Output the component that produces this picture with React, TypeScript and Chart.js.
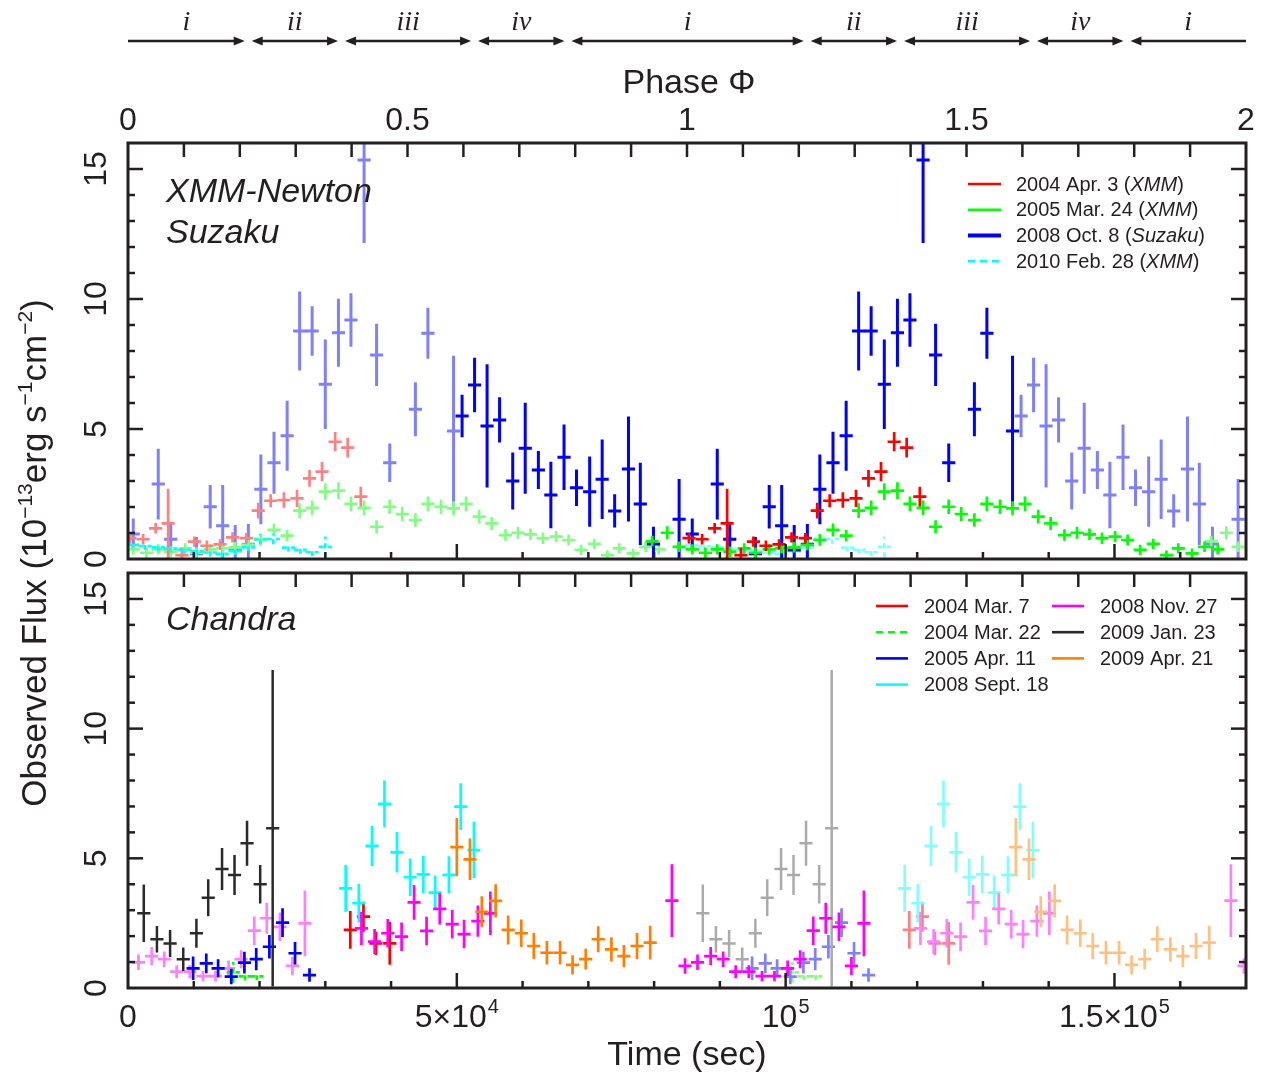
import React, { useEffect, useRef } from "react";
import { Chart, registerables } from "chart.js";

Chart.register(...registerables);

// ---------- constants ----------
const PERIOD = 85000; // s, one orbital phase
const TIME_MAX = 170000; // s (phase 2)
const FLUX_MAX = 16;
const BIN_HALF = 1000; // s, half width of time bins

// ---------- top panel: XMM-Newton / Suzaku ----------
const xmm2004AprTime = [85300, 87300, 89200, 91100, 93200, 95100, 97000, 99000, 100900, 103000, 104800, 106700, 108700, 110700, 112600, 114500, 116500, 118400, 120400];
const xmm2004AprFlux = [0.80, 0.76, 1.18, 1.37, 0.15, 0.67, 0.51, 0.56, 0.83, 0.80, 1.86, 2.24, 2.27, 2.33, 3.10, 3.36, 4.51, 4.28, 2.40];
const xmm2004AprErr = [0.2, 0.2, 0.2, 1.33, 0.27, 0.2, 0.2, 0.2, 0.2, 0.2, 0.3, 0.25, 0.3, 0.33, 0.32, 0.37, 0.37, 0.38, 0.38];

const xmm2005MarTime = [79700, 82000, 83800, 85800, 87800, 89600, 91500, 93700, 95400, 97500, 99400, 101300, 103300, 105200, 107200, 109200, 111100, 113000, 115000, 117000, 118900, 120900, 122800, 124800, 126700, 128700, 130600, 132600, 134500, 136400, 138400, 140300, 142400, 144300, 146200, 148100, 150100, 152000, 153900, 155900, 157900, 159700, 161800, 163700, 165700];
const xmm2005MarFlux = [0.69, 1.01, 0.47, 0.37, 0.24, 0.37, 0.28, 0.41, 0.24, 0.37, 0.42, 0.45, 0.54, 0.73, 1.12, 0.90, 1.86, 1.97, 2.59, 2.63, 2.12, 1.97, 1.24, 2.01, 1.73, 1.50, 2.12, 2.01, 1.95, 2.12, 1.63, 1.37, 0.92, 1.01, 0.95, 0.80, 0.86, 0.73, 0.35, 0.58, 0.15, 0.41, 0.22, 0.47, 0.37];
const xmm2005MarErr = [0.2, 0.25, 0.2, 0.2, 0.2, 0.2, 0.2, 0.2, 0.2, 0.2, 0.2, 0.2, 0.2, 0.22, 0.25, 0.22, 0.28, 0.28, 0.32, 0.32, 0.28, 0.28, 0.25, 0.28, 0.27, 0.26, 0.28, 0.28, 0.27, 0.28, 0.26, 0.25, 0.22, 0.23, 0.22, 0.22, 0.22, 0.21, 0.2, 0.2, 0.18, 0.2, 0.18, 0.2, 0.2];

const suzaku2008OctTime = [50800, 52700, 54600, 56500, 58500, 60400, 62400, 64300, 66300, 68200, 70200, 72100, 74000, 76100, 77900, 79900, 83800, 85800, 89600, 91500, 95400, 97500, 99400, 101300, 103300, 105200, 107200, 109200, 111100, 113000, 115000, 117000, 118900, 120900, 122800, 124800, 128700, 130600, 134500];
const suzaku2008OctFlux = [5.50, 6.69, 5.12, 5.35, 3.00, 4.26, 3.42, 2.46, 3.91, 2.74, 2.59, 3.07, 1.85, 3.46, 2.12, 0.58, 1.53, 0.96, 2.88, 0.76, 0.20, 2.01, 1.28, 0.35, 0.57, 2.68, 3.70, 4.74, 8.77, 8.77, 6.72, 8.70, 9.19, 15.35, 7.85, 3.70, 5.76, 8.68, 4.92];
const suzaku2008OctErr = [0.82, 1.05, 2.37, 0.87, 1.10, 1.75, 0.73, 1.28, 1.26, 0.70, 1.35, 1.53, 0.64, 2.02, 1.58, 0.66, 1.55, 0.60, 1.36, 0.60, 0.65, 0.84, 1.57, 0.96, 0.78, 1.34, 1.19, 1.35, 1.52, 0.95, 1.72, 1.31, 1.03, 3.20, 1.20, 0.74, 1.04, 0.98, 2.90];

const xmm2010FebTime = [700, 2600, 4600, 6500, 8500, 10500, 12500, 14300, 16300, 18300, 20100, 22100, 24400, 26200, 28000, 30000];
const xmm2010FebFlux = [0.54, 0.50, 0.45, 0.40, 0.35, 0.30, 0.25, 0.20, 0.30, 0.45, 0.77, 0.77, 0.44, 0.35, 0.26, 0.47];
const xmm2010FebErr = [0.15, 0.15, 0.15, 0.15, 0.15, 0.15, 0.15, 0.15, 0.15, 0.15, 0.2, 0.2, 0.15, 0.15, 0.15, 0.4];

// ---------- bottom panel: Chandra ----------
const cxo2004Mar7Time = [33800, 35800, 37700, 39800];
const cxo2004Mar7Flux = [2.24, 2.75, 1.72, 1.72];
const cxo2004Mar7Err = [0.73, 0.58, 0.45, 0.82];

const cxo2004Mar22Time = [16000, 17800, 19600];
const cxo2004Mar22Flux = [0.6, 0.45, 0.45];
const cxo2004Mar22Err = [0.4, 0.15, 0.15];

const cxo2005Apr11Time = [9900, 11900, 13700, 15700, 17700, 19500, 21500, 23500, 25400, 27600];
const cxo2005Apr11Flux = [0.76, 0.95, 0.76, 0.44, 0.98, 1.11, 1.59, 2.52, 1.34, 0.50];
const cxo2005Apr11Err = [0.45, 0.38, 0.35, 0.30, 0.42, 0.43, 0.45, 0.55, 0.43, 0.26];

const cxo2008Sep18Time = [33100, 35100, 37100, 39000, 40900, 42900, 44900, 46700, 48800, 50600, 52600];
const cxo2008Sep18Flux = [3.84, 3.27, 5.48, 7.10, 5.23, 4.27, 4.38, 3.68, 4.36, 6.99, 5.32];
const cxo2008Sep18Err = [0.90, 0.74, 0.78, 0.90, 0.78, 0.72, 0.72, 0.66, 0.72, 0.90, 1.09];

const cxo2008Nov27Time = [35500, 37500, 39500, 41600, 43500, 45400, 47400, 49300, 51100, 53200, 55100, 82700, 84700, 86600, 88600, 90500, 92400, 94400, 96400, 98300, 100300, 102200, 104200, 106100, 108100, 110000, 111900];
const cxo2008Nov27Flux = [2.30, 1.79, 2.11, 1.98, 3.30, 2.20, 3.05, 2.46, 2.08, 2.58, 2.88, 3.37, 0.85, 0.99, 1.23, 1.11, 0.63, 0.63, 0.46, 0.46, 0.76, 1.11, 2.21, 2.69, 2.36, 0.85, 2.49];
const cxo2008Nov27Err = [0.64, 0.48, 0.55, 0.55, 0.67, 0.55, 0.60, 0.55, 0.55, 0.60, 0.84, 1.40, 0.30, 0.30, 0.35, 0.30, 0.25, 0.25, 0.20, 0.20, 0.30, 0.35, 0.55, 0.60, 0.55, 0.35, 1.27];

const cxo2009Jan23Time = [2400, 4400, 6400, 8400, 10400, 12200, 14300, 16200, 18100, 20100, 22000];
const cxo2009Jan23Flux = [2.88, 1.88, 1.72, 1.11, 2.11, 3.48, 4.59, 4.36, 5.58, 4.00, 6.16];
const cxo2009Jan23Err = [1.11, 0.51, 0.52, 0.45, 0.56, 0.71, 0.81, 0.77, 0.87, 0.74, 6.1];

const cxo2009Apr21Time = [50000, 52000, 53800, 55900, 57800, 59800, 61700, 63700, 65700, 67600, 69600, 71500, 73500, 75400, 77400, 79400];
const cxo2009Apr21Flux = [5.43, 4.96, 2.94, 3.36, 2.24, 2.11, 1.62, 1.36, 1.36, 0.89, 1.11, 1.88, 1.49, 1.23, 1.62, 1.75];
const cxo2009Apr21Err = [1.12, 0.80, 0.60, 0.64, 0.56, 0.53, 0.50, 0.45, 0.45, 0.37, 0.40, 0.50, 0.47, 0.43, 0.50, 0.65];

// ---------- axis / annotation labels ----------
const fluxTickLabels = [0, 5, 10, 15];
const phaseTickLabels = [0, 0.5, 1, 1.5, 2];
const timeTickValues = [0, 50000, 100000, 150000];
const timeTickMantissa = ["0", "5×10", "10", "1.5×10"];
const timeTickExponent = ["", "4", "5", "5"];
const phaseBoundaries = [0, 0.215, 0.382, 0.62, 0.787, 1.215, 1.382, 1.62, 1.787, 2];
const phaseSegmentLabels = ["i", "ii", "iii", "iv", "i", "ii", "iii", "iv", "i"];

// ---------- series tables ----------
type Series = {
  label: string;
  time: number[];
  flux: number[];
  err: number[];
  color: string;
  light: string;
  width: number;
  dash: number[];
};

const topSeries: Series[] = [
  { label: "2008 Oct. 8 (Suzaku)", time: suzaku2008OctTime, flux: suzaku2008OctFlux, err: suzaku2008OctErr, color: "#0000ff", light: "#8080ff", width: 3, dash: [] },
  { label: "2005 Mar. 24 (XMM)", time: xmm2005MarTime, flux: xmm2005MarFlux, err: xmm2005MarErr, color: "#00ff00", light: "#80ff80", width: 2.7, dash: [] },
  { label: "2004 Apr. 3 (XMM)", time: xmm2004AprTime, flux: xmm2004AprFlux, err: xmm2004AprErr, color: "#ff0000", light: "#ff8080", width: 2.7, dash: [] },
  { label: "2010 Feb. 28 (XMM)", time: xmm2010FebTime, flux: xmm2010FebFlux, err: xmm2010FebErr, color: "#00ffff", light: "#80ffff", width: 2.7, dash: [5, 4] },
];
const topLegendOrder = [2, 1, 0, 3];

const bottomSeries: Series[] = [
  { label: "2004 Mar. 7", time: cxo2004Mar7Time, flux: cxo2004Mar7Flux, err: cxo2004Mar7Err, color: "#ff0000", light: "#ff8080", width: 2.7, dash: [] },
  { label: "2004 Mar. 22", time: cxo2004Mar22Time, flux: cxo2004Mar22Flux, err: cxo2004Mar22Err, color: "#00ff00", light: "#80ff80", width: 2.7, dash: [5, 4] },
  { label: "2005 Apr. 11", time: cxo2005Apr11Time, flux: cxo2005Apr11Flux, err: cxo2005Apr11Err, color: "#0000ff", light: "#8080ff", width: 2.7, dash: [] },
  { label: "2008 Sept. 18", time: cxo2008Sep18Time, flux: cxo2008Sep18Flux, err: cxo2008Sep18Err, color: "#00ffff", light: "#80ffff", width: 2.7, dash: [] },
  { label: "2008 Nov. 27", time: cxo2008Nov27Time, flux: cxo2008Nov27Flux, err: cxo2008Nov27Err, color: "#ff00ff", light: "#ff80ff", width: 2.7, dash: [] },
  { label: "2009 Jan. 23", time: cxo2009Jan23Time, flux: cxo2009Jan23Flux, err: cxo2009Jan23Err, color: "#2a2a2a", light: "#aaaaaa", width: 2.5, dash: [] },
  { label: "2009 Apr. 21", time: cxo2009Apr21Time, flux: cxo2009Apr21Flux, err: cxo2009Apr21Err, color: "#ff8000", light: "#ffc080", width: 2.7, dash: [] },
];

// ---------- drawing helpers ----------
const INK = "#231f20";
const FONT = '"Liberation Sans", Arial, Helvetica, sans-serif';
const SERIF = '"Liberation Serif", "Times New Roman", serif';

function foldTime(t: number) {
  return t < PERIOD ? t + PERIOD : t - PERIOD;
}

function buildDatasets(series: Series[]) {
  const folded = series.map((s) => ({
    label: s.label + " (folded)",
    data: s.time.map((t, i) => ({ x: foldTime(t), y: s.flux[i], e: s.err[i] })),
    borderColor: s.light,
    backgroundColor: s.light,
    pointRadius: 0,
    showLine: false,
    errWidth: s.width,
    errDash: s.dash,
  }));
  const direct = series.map((s) => ({
    label: s.label,
    data: s.time.map((t, i) => ({ x: t, y: s.flux[i], e: s.err[i] })),
    borderColor: s.color,
    backgroundColor: s.color,
    pointRadius: 0,
    showLine: false,
    errWidth: s.width,
    errDash: s.dash,
  }));
  return [...folded, ...direct];
}

const errorCrossPlugin = {
  id: "errorCross",
  afterDatasetsDraw(chart: any) {
    const { ctx, chartArea: a } = chart;
    const xs = chart.scales.x;
    const ys = chart.scales.y;
    ctx.save();
    ctx.beginPath();
    ctx.rect(a.left, a.top, a.right - a.left, a.bottom - a.top);
    ctx.clip();
    chart.data.datasets.forEach((ds: any) => {
      ctx.strokeStyle = ds.borderColor;
      ctx.lineWidth = ds.errWidth;
      ctx.setLineDash(ds.errDash || []);
      ctx.lineCap = "butt";
      ds.data.forEach((p: any) => {
        const px = xs.getPixelForValue(p.x);
        const py = ys.getPixelForValue(p.y);
        const x0 = xs.getPixelForValue(p.x - BIN_HALF);
        const x1 = xs.getPixelForValue(p.x + BIN_HALF);
        const y0 = ys.getPixelForValue(p.y - p.e);
        const y1 = ys.getPixelForValue(p.y + p.e);
        ctx.beginPath();
        ctx.moveTo(x0, py);
        ctx.lineTo(x1, py);
        ctx.moveTo(px, y0);
        ctx.lineTo(px, y1);
        ctx.stroke();
      });
    });
    ctx.restore();
  },
};

function seg(ctx: CanvasRenderingContext2D, x0: number, y0: number, x1: number, y1: number) {
  ctx.beginPath();
  ctx.moveTo(x0, y0);
  ctx.lineTo(x1, y1);
  ctx.stroke();
}

function drawFrame(chart: any) {
  const { ctx, chartArea: a } = chart;
  const xs = chart.scales.x;
  const ys = chart.scales.y;
  ctx.save();
  ctx.strokeStyle = INK;
  ctx.lineWidth = 2.5;
  ctx.setLineDash([]);
  for (let v = 1; v < FLUX_MAX; v++) {
    const py = ys.getPixelForValue(v);
    const len = v % 5 === 0 ? 15 : 7;
    seg(ctx, a.left, py, a.left + len, py);
    seg(ctx, a.right, py, a.right - len, py);
  }
  for (let k = 1; k < 20; k++) {
    const px = xs.getPixelForValue((k / 10) * PERIOD);
    seg(ctx, px, a.top, px, a.top + 14);
  }
  for (let t = 10000; t < TIME_MAX; t += 10000) {
    const px = xs.getPixelForValue(t);
    const len = t % 50000 === 0 ? 15 : 7;
    seg(ctx, px, a.bottom, px, a.bottom - len);
  }
  ctx.lineWidth = 3;
  ctx.strokeRect(a.left, a.top, a.right - a.left, a.bottom - a.top);
  // rotated flux tick labels
  ctx.fillStyle = INK;
  ctx.font = `32px ${FONT}`;
  ctx.textAlign = "center";
  ctx.textBaseline = "alphabetic";
  fluxTickLabels.forEach((v) => {
    const py = ys.getPixelForValue(v);
    ctx.save();
    ctx.translate(106, py);
    ctx.rotate(-Math.PI / 2);
    ctx.fillText(String(v), 0, 0);
    ctx.restore();
  });
  ctx.restore();
}

function drawMixedText(ctx: CanvasRenderingContext2D, text: string, x: number, y: number, size: number) {
  const m = text.match(/^(.*\()(.*)(\).*)$/);
  const parts: [string, boolean][] = m ? [[m[1], false], [m[2], true], [m[3], false]] : [[text, false]];
  let cx = x;
  ctx.textAlign = "left";
  parts.forEach(([s, italic]) => {
    ctx.font = `${italic ? "italic " : ""}${size}px ${FONT}`;
    ctx.fillText(s, cx, y);
    cx += ctx.measureText(s).width;
  });
}

function legendSample(ctx: CanvasRenderingContext2D, x0: number, x1: number, y: number, s: Series, width: number) {
  ctx.save();
  ctx.strokeStyle = s.color;
  ctx.lineWidth = width;
  ctx.setLineDash(s.dash.length ? [7, 5] : []);
  seg(ctx, x0, y, x1, y);
  ctx.restore();
}

function arrowHead(ctx: CanvasRenderingContext2D, x: number, y: number, dir: number) {
  ctx.beginPath();
  ctx.moveTo(x, y);
  ctx.lineTo(x - dir * 11, y - 4.5);
  ctx.lineTo(x - dir * 11, y + 4.5);
  ctx.closePath();
  ctx.fill();
}

const topDecorPlugin = {
  id: "topDecor",
  afterDraw(chart: any) {
    const { ctx, chartArea: a } = chart;
    const xs = chart.scales.x;
    drawFrame(chart);
    ctx.save();
    ctx.fillStyle = INK;
    ctx.strokeStyle = INK;
    // phase tick labels
    ctx.font = `32px ${FONT}`;
    ctx.textAlign = "center";
    ctx.textBaseline = "alphabetic";
    phaseTickLabels.forEach((p) => {
      ctx.fillText(String(p), xs.getPixelForValue(p * PERIOD), 130);
    });
    ctx.font = `34px ${FONT}`;
    ctx.fillText("Phase Φ", (a.left + a.right) / 2 + 2, 93);
    // phase segments with arrows
    ctx.lineWidth = 2.5;
    for (let i = 0; i < phaseSegmentLabels.length; i++) {
      const first = i === 0;
      const last = i === phaseSegmentLabels.length - 1;
      const x0 = xs.getPixelForValue(phaseBoundaries[i] * PERIOD) + (first ? 0 : 3.5);
      const x1 = xs.getPixelForValue(phaseBoundaries[i + 1] * PERIOD) - (last ? 0 : 3.5);
      seg(ctx, first ? x0 : x0 + 6, 41, last ? x1 : x1 - 6, 41);
      if (!first) arrowHead(ctx, x0, 41, -1);
      if (!last) arrowHead(ctx, x1, 41, 1);
      ctx.font = `italic 28px ${SERIF}`;
      ctx.textAlign = "center";
      ctx.fillText(phaseSegmentLabels[i], (x0 + x1) / 2, 30);
    }
    // panel label
    ctx.font = `italic 34px ${FONT}`;
    ctx.textAlign = "left";
    ctx.fillText("XMM-Newton", 166, 202);
    ctx.fillText("Suzaku", 166, 243);
    // legend
    ctx.textBaseline = "middle";
    topLegendOrder.forEach((si, row) => {
      const s = topSeries[si];
      const y = 184 + row * 25.7;
      legendSample(ctx, 968, 1001, y, s, s.width > 2.8 ? 4 : 2.6);
      ctx.fillStyle = INK;
      drawMixedText(ctx, s.label, 1016, y + 1, 20);
    });
    // y axis title (spans both panels)
    const parts: [string, boolean][] = [
      ["Observed Flux (10", false],
      ["−13", true],
      ["erg s", false],
      ["−1", true],
      ["cm", false],
      ["−2", true],
      [")", false],
    ];
    const big = `35px ${FONT}`;
    const small = `21px ${FONT}`;
    let total = 0;
    parts.forEach(([s, sup]) => {
      ctx.font = sup ? small : big;
      total += ctx.measureText(s).width;
    });
    ctx.save();
    ctx.translate(46, 553);
    ctx.rotate(-Math.PI / 2);
    ctx.textAlign = "left";
    ctx.textBaseline = "alphabetic";
    let cx = -total / 2;
    parts.forEach(([s, sup]) => {
      ctx.font = sup ? small : big;
      ctx.fillText(s, cx, sup ? -14 : 0);
      cx += ctx.measureText(s).width;
    });
    ctx.restore();
    ctx.restore();
  },
};

const bottomDecorPlugin = {
  id: "bottomDecor",
  afterDraw(chart: any) {
    const { ctx, chartArea: a } = chart;
    const xs = chart.scales.x;
    drawFrame(chart);
    ctx.save();
    ctx.fillStyle = INK;
    // time tick labels with exponents
    ctx.textBaseline = "alphabetic";
    ctx.textAlign = "left";
    timeTickValues.forEach((v, i) => {
      const big = `32px ${FONT}`;
      const small = `20px ${FONT}`;
      ctx.font = big;
      const w1 = ctx.measureText(timeTickMantissa[i]).width;
      ctx.font = small;
      const w2 = timeTickExponent[i] ? ctx.measureText(timeTickExponent[i]).width + 1 : 0;
      const x0 = xs.getPixelForValue(v) - (w1 + w2) / 2;
      ctx.font = big;
      ctx.fillText(timeTickMantissa[i], x0, 1027);
      if (timeTickExponent[i]) {
        ctx.font = small;
        ctx.fillText(timeTickExponent[i], x0 + w1 + 1, 1013);
      }
    });
    ctx.font = `34px ${FONT}`;
    ctx.textAlign = "center";
    ctx.fillText("Time (sec)", (a.left + a.right) / 2, 1065);
    // panel label
    ctx.font = `italic 34px ${FONT}`;
    ctx.textAlign = "left";
    ctx.fillText("Chandra", 166, 630);
    // legend
    ctx.textBaseline = "middle";
    bottomSeries.forEach((s, i) => {
      const col = i < 4 ? 0 : 1;
      const row = i < 4 ? i : i - 4;
      const y = 606 + row * 26.2;
      const lx = col === 0 ? 876 : 1052;
      legendSample(ctx, lx, lx + 32, y, s, 2.6);
      ctx.fillStyle = INK;
      drawMixedText(ctx, s.label, lx + 48, y + 1, 20);
    });
    ctx.restore();
  },
};

function makeConfig(series: Series[], decor: any, padTop: number, padBottom: number): any {
  return {
    type: "scatter",
    data: { datasets: buildDatasets(series) },
    options: {
      responsive: false,
      maintainAspectRatio: false,
      animation: false,
      devicePixelRatio: 1,
      events: [],
      layout: { padding: { left: 128, right: 24, top: padTop, bottom: padBottom } },
      scales: {
        x: { type: "linear", min: 0, max: TIME_MAX, display: false },
        y: { type: "linear", min: 0, max: FLUX_MAX, display: false },
      },
      plugins: { legend: { display: false }, tooltip: { enabled: false } },
    },
    plugins: [errorCrossPlugin, decor],
  };
}

export default function App() {
  const topRef = useRef<HTMLCanvasElement>(null);
  const bottomRef = useRef<HTMLCanvasElement>(null);

  useEffect(() => {
    const top = new Chart(topRef.current as HTMLCanvasElement, makeConfig(topSeries, topDecorPlugin, 143, 1079 - 559));
    const bottom = new Chart(bottomRef.current as HTMLCanvasElement, makeConfig(bottomSeries, bottomDecorPlugin, 573, 1079 - 988));
    return () => {
      top.destroy();
      bottom.destroy();
    };
  }, []);

  return (
    <div style={{ position: "absolute", left: 0, top: 0, width: 1270, height: 1079, background: "#ffffff" }}>
      <canvas ref={topRef} width={1270} height={1079} style={{ position: "absolute", left: 0, top: 0 }} />
      <canvas ref={bottomRef} width={1270} height={1079} style={{ position: "absolute", left: 0, top: 0 }} />
    </div>
  );
}
